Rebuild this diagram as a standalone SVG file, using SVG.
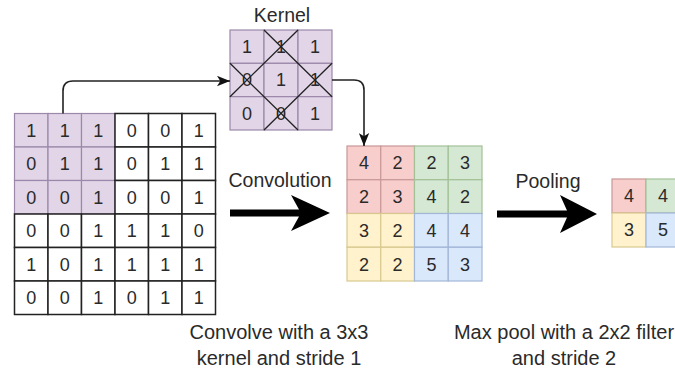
<svg xmlns="http://www.w3.org/2000/svg" width="675" height="372" viewBox="0 0 675 372">
<style>
text{font-family:"Liberation Sans",Arial,sans-serif;fill:#2a2a2a;text-anchor:middle}
.d{font-size:18px}
.lbl{font-size:19.5px}
.cap{font-size:20px}
.pu{fill:#e1d5e7;stroke:#9c88aa;stroke-width:1.2}
.wh{fill:#ffffff;stroke:#222;stroke-width:1.5}
.rd{fill:#f8cecc;stroke:#c99896;stroke-width:1.2}
.gr{fill:#d5e8d4;stroke:#a3c096;stroke-width:1.2}
.ye{fill:#fff2cc;stroke:#d8c88f;stroke-width:1.2}
.bl{fill:#dae8fc;stroke:#a2b6d6;stroke-width:1.2}
.x{stroke:#222;stroke-width:1.3;fill:none}
.conn{stroke:#222;stroke-width:1.6;fill:none}
.big{fill:#000}
</style>
<defs>
<marker id="ah" viewBox="0 0 10 8" refX="10" refY="4" markerWidth="13" markerHeight="11" markerUnits="userSpaceOnUse" orient="auto">
<path d="M0,0 L10,4 L0,8 L2.5,4 Z" fill="#111"/>
</marker>
</defs>

<g id="input-grid">
<rect class="pu" x="14.5" y="113.5" width="33.5" height="33.5"/>
<rect class="pu" x="48" y="113.5" width="33.5" height="33.5"/>
<rect class="pu" x="81.5" y="113.5" width="33.5" height="33.5"/>
<rect class="pu" x="14.5" y="147" width="33.5" height="33.5"/>
<rect class="pu" x="48" y="147" width="33.5" height="33.5"/>
<rect class="pu" x="81.5" y="147" width="33.5" height="33.5"/>
<rect class="pu" x="14.5" y="180.5" width="33.5" height="33.5"/>
<rect class="pu" x="48" y="180.5" width="33.5" height="33.5"/>
<rect class="pu" x="81.5" y="180.5" width="33.5" height="33.5"/>
<rect class="wh" x="115" y="113.5" width="33.5" height="33.5"/>
<rect class="wh" x="148.5" y="113.5" width="33.5" height="33.5"/>
<rect class="wh" x="182" y="113.5" width="33.5" height="33.5"/>
<rect class="wh" x="115" y="147" width="33.5" height="33.5"/>
<rect class="wh" x="148.5" y="147" width="33.5" height="33.5"/>
<rect class="wh" x="182" y="147" width="33.5" height="33.5"/>
<rect class="wh" x="115" y="180.5" width="33.5" height="33.5"/>
<rect class="wh" x="148.5" y="180.5" width="33.5" height="33.5"/>
<rect class="wh" x="182" y="180.5" width="33.5" height="33.5"/>
<rect class="wh" x="14.5" y="214" width="33.5" height="33.5"/>
<rect class="wh" x="48" y="214" width="33.5" height="33.5"/>
<rect class="wh" x="81.5" y="214" width="33.5" height="33.5"/>
<rect class="wh" x="115" y="214" width="33.5" height="33.5"/>
<rect class="wh" x="148.5" y="214" width="33.5" height="33.5"/>
<rect class="wh" x="182" y="214" width="33.5" height="33.5"/>
<rect class="wh" x="14.5" y="247.5" width="33.5" height="33.5"/>
<rect class="wh" x="48" y="247.5" width="33.5" height="33.5"/>
<rect class="wh" x="81.5" y="247.5" width="33.5" height="33.5"/>
<rect class="wh" x="115" y="247.5" width="33.5" height="33.5"/>
<rect class="wh" x="148.5" y="247.5" width="33.5" height="33.5"/>
<rect class="wh" x="182" y="247.5" width="33.5" height="33.5"/>
<rect class="wh" x="14.5" y="281" width="33.5" height="33.5"/>
<rect class="wh" x="48" y="281" width="33.5" height="33.5"/>
<rect class="wh" x="81.5" y="281" width="33.5" height="33.5"/>
<rect class="wh" x="115" y="281" width="33.5" height="33.5"/>
<rect class="wh" x="148.5" y="281" width="33.5" height="33.5"/>
<rect class="wh" x="182" y="281" width="33.5" height="33.5"/>
<g class="d">
<text x="31.25" y="136.7">1</text><text x="64.75" y="136.7">1</text><text x="98.25" y="136.7">1</text><text x="131.75" y="136.7">0</text><text x="165.25" y="136.7">0</text><text x="198.75" y="136.7">1</text>
<text x="31.25" y="170.2">0</text><text x="64.75" y="170.2">1</text><text x="98.25" y="170.2">1</text><text x="131.75" y="170.2">0</text><text x="165.25" y="170.2">1</text><text x="198.75" y="170.2">1</text>
<text x="31.25" y="203.7">0</text><text x="64.75" y="203.7">0</text><text x="98.25" y="203.7">1</text><text x="131.75" y="203.7">0</text><text x="165.25" y="203.7">0</text><text x="198.75" y="203.7">1</text>
<text x="31.25" y="237.2">0</text><text x="64.75" y="237.2">0</text><text x="98.25" y="237.2">1</text><text x="131.75" y="237.2">1</text><text x="165.25" y="237.2">1</text><text x="198.75" y="237.2">0</text>
<text x="31.25" y="270.7">1</text><text x="64.75" y="270.7">0</text><text x="98.25" y="270.7">1</text><text x="131.75" y="270.7">1</text><text x="165.25" y="270.7">1</text><text x="198.75" y="270.7">1</text>
<text x="31.25" y="304.2">0</text><text x="64.75" y="304.2">0</text><text x="98.25" y="304.2">1</text><text x="131.75" y="304.2">0</text><text x="165.25" y="304.2">1</text><text x="198.75" y="304.2">1</text>
</g>
</g>

<g id="kernel">
<text class="lbl" x="282" y="22">Kernel</text>
<rect class="pu" x="230" y="30" width="34" height="33.33"/>
<rect class="pu" x="264" y="30" width="34" height="33.33"/>
<rect class="pu" x="298" y="30" width="34" height="33.33"/>
<rect class="pu" x="230" y="63.33" width="34" height="33.33"/>
<rect class="pu" x="264" y="63.33" width="34" height="33.33"/>
<rect class="pu" x="298" y="63.33" width="34" height="33.33"/>
<rect class="pu" x="230" y="96.67" width="34" height="33.33"/>
<rect class="pu" x="264" y="96.67" width="34" height="33.33"/>
<rect class="pu" x="298" y="96.67" width="34" height="33.33"/>
<g class="d">
<text x="247" y="53.1">1</text><text x="281" y="53.1">1</text><text x="315" y="53.1">1</text>
<text x="247" y="86.4">0</text><text x="281" y="86.4">1</text><text x="315" y="86.4">1</text>
<text x="247" y="119.7">0</text><text x="281" y="119.7">0</text><text x="315" y="119.7">1</text>
</g>
<path class="x" d="M264,30 L332,96.67 M298,30 L230,96.67 M230,63.33 L298,130 M332,63.33 L264,130"/>
</g>

<g id="feature-map">
<rect class="rd" x="347" y="146" width="33.75" height="33.75"/>
<rect class="rd" x="380.75" y="146" width="33.75" height="33.75"/>
<rect class="rd" x="347" y="179.75" width="33.75" height="33.75"/>
<rect class="rd" x="380.75" y="179.75" width="33.75" height="33.75"/>
<rect class="gr" x="414.5" y="146" width="33.75" height="33.75"/>
<rect class="gr" x="448.25" y="146" width="33.75" height="33.75"/>
<rect class="gr" x="414.5" y="179.75" width="33.75" height="33.75"/>
<rect class="gr" x="448.25" y="179.75" width="33.75" height="33.75"/>
<rect class="ye" x="347" y="213.5" width="33.75" height="33.75"/>
<rect class="ye" x="380.75" y="213.5" width="33.75" height="33.75"/>
<rect class="ye" x="347" y="247.25" width="33.75" height="33.75"/>
<rect class="ye" x="380.75" y="247.25" width="33.75" height="33.75"/>
<rect class="bl" x="414.5" y="213.5" width="33.75" height="33.75"/>
<rect class="bl" x="448.25" y="213.5" width="33.75" height="33.75"/>
<rect class="bl" x="414.5" y="247.25" width="33.75" height="33.75"/>
<rect class="bl" x="448.25" y="247.25" width="33.75" height="33.75"/>
<g class="d">
<text x="363.9" y="169.3">4</text><text x="397.6" y="169.3">2</text><text x="431.4" y="169.3">2</text><text x="465.1" y="169.3">3</text>
<text x="363.9" y="203">2</text><text x="397.6" y="203">3</text><text x="431.4" y="203">4</text><text x="465.1" y="203">2</text>
<text x="363.9" y="236.8">3</text><text x="397.6" y="236.8">2</text><text x="431.4" y="236.8">4</text><text x="465.1" y="236.8">4</text>
<text x="363.9" y="270.5">2</text><text x="397.6" y="270.5">2</text><text x="431.4" y="270.5">5</text><text x="465.1" y="270.5">3</text>
</g>
</g>

<g id="pooled">
<rect class="rd" x="612" y="179" width="34" height="34"/>
<rect class="gr" x="646" y="179" width="34" height="34"/>
<rect class="ye" x="612" y="213" width="34" height="34"/>
<rect class="bl" x="646" y="213" width="34" height="34"/>
<g class="d">
<text x="629" y="202.4">4</text><text x="663" y="202.4">4</text>
<text x="629" y="236.4">3</text><text x="663" y="236.4">5</text>
</g>
</g>

<g id="labels">
<text class="lbl" x="280" y="187">Convolution</text>
<text class="lbl" x="548" y="188">Pooling</text>
<text class="cap" x="279" y="339">Convolve with a 3x3</text>
<text class="cap" x="279" y="365">kernel and stride 1</text>
<text class="cap" x="564" y="339">Max pool with a 2x2 filter</text>
<text class="cap" x="564" y="365">and stride 2</text>
</g>

<g id="connectors">
<path class="conn" d="M63,113.5 V91 Q63,81 73,81 H230" marker-end="url(#ah)"/>
<path class="conn" d="M332,80 H354 Q364,80 364,90 V146" marker-end="url(#ah)"/>
<polygon class="big" points="230,209.5 299,209.5 291,195 330,213 291,231 299,216.5 230,216.5"/>
<polygon class="big" points="497,210.5 567,210.5 560,195 597,214 560,233 567,217.5 497,217.5"/>
</g>
</svg>
